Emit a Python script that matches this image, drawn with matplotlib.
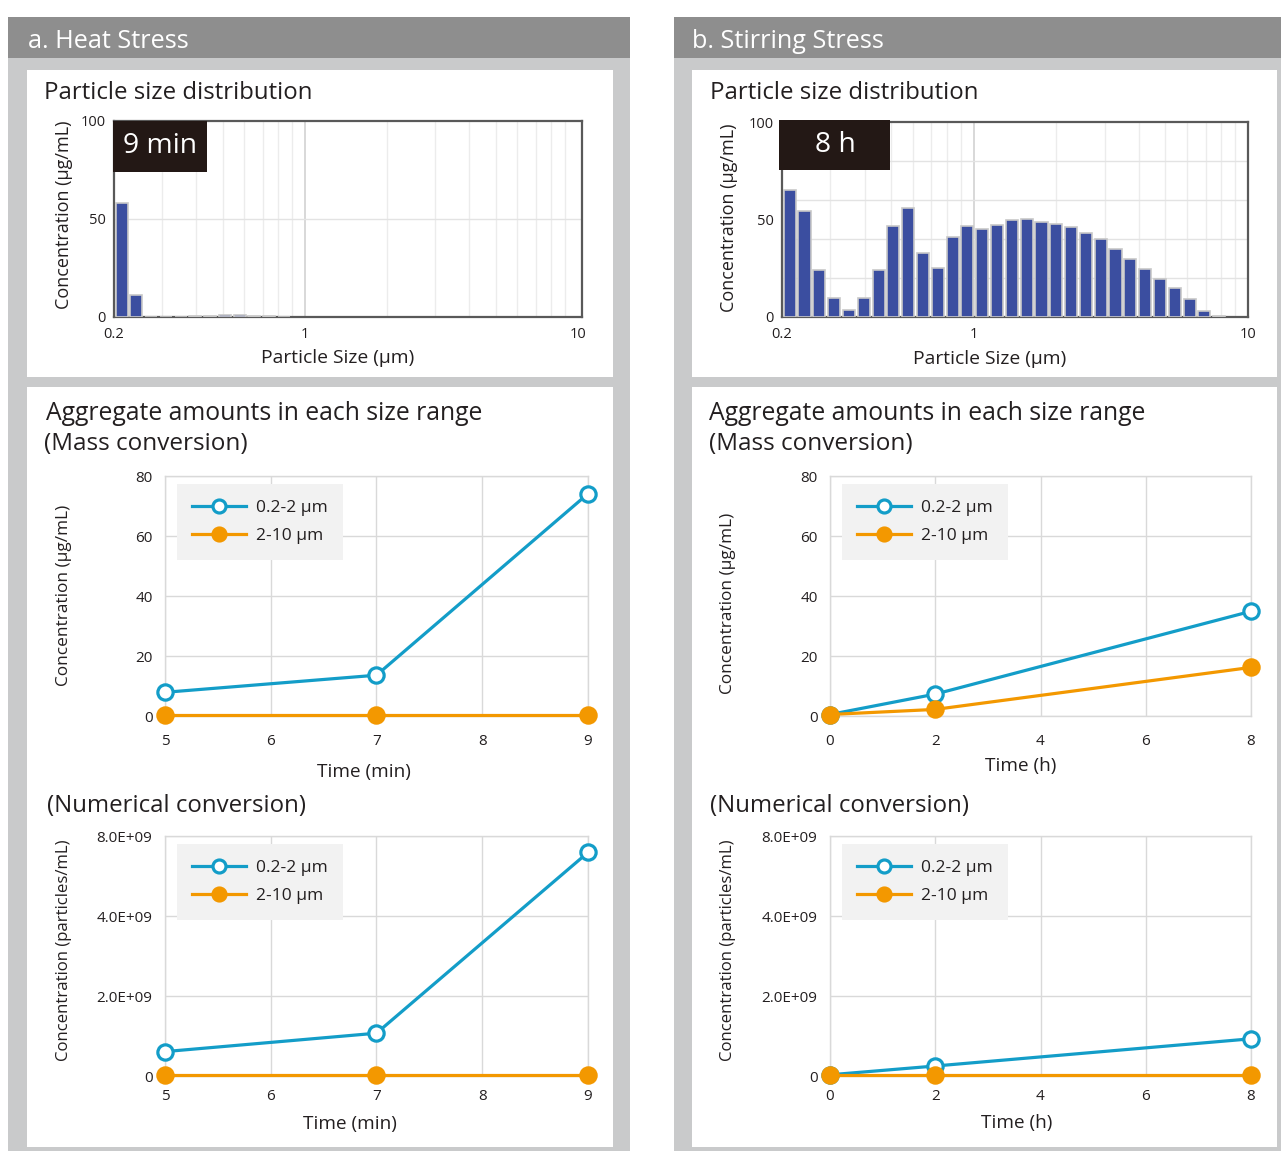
import matplotlib
matplotlib.use("Agg")
import matplotlib.pyplot as plt
from matplotlib.patches import Rectangle
from matplotlib.ticker import NullLocator

plt.rcParams['font.family'] = ['Open Sans', 'DejaVu Sans']

# ---- data ----
# particle size distribution, log bins starting at 0.2 um
bin_step = 0.054          # decades per bin
heat_hist = [58, 11, 0, 0, 0, 0.3, 0.3, 1.2, 1.2, 0.5, 0.3, 0.2]
stir_hist = [65.1, 54.5, 23.9, 9.9, 3.4, 9.9, 23.9, 46.7, 55.9, 33.0,
             25.0, 41.2, 46.7, 45.0, 47.0, 49.7, 50.3, 48.7, 47.5, 46.2,
             43.3, 40.2, 34.8, 29.8, 24.4, 19.6, 14.7, 9.2, 3.2, 0.7]

heat_time = [5, 7, 9]
heat_mass_small = [7.9, 13.6, 74.1]
heat_mass_large = [0.5, 0.5, 0.5]
heat_num_small = [0.61e9, 1.07e9, 5.59e9]
heat_num_large = [0.02e9, 0.02e9, 0.02e9]

stir_time = [0, 2, 8]
stir_mass_small = [0.5, 7.3, 34.9]
stir_mass_large = [0.5, 2.2, 16.2]
stir_num_small = [0.03e9, 0.25e9, 0.93e9]
stir_num_large = [0.02e9, 0.02e9, 0.02e9]

num_ticks = [0, 2e9, 4e9, 6e9]
num_ticklabels = ['0', '2.0E+09', '4.0E+09', '8.0E+09']

BLUE = '#139dc8'
ORANGE = '#f39800'
TXT = '#231f20'
GRID = '#d9d9d9'

W, H = 1281, 1151
fig = plt.figure(figsize=(W / 100, H / 100), dpi=100)


def box(x0, y0, x1, y1, color):
    fig.add_artist(Rectangle((x0 / W, 1 - y1 / H), (x1 - x0) / W, (y1 - y0) / H,
                             transform=fig.transFigure, facecolor=color,
                             edgecolor='none', zorder=-5))


def axes_px(x0, y0, x1, y1):
    return fig.add_axes([x0 / W, 1 - y1 / H, (x1 - x0) / W, (y1 - y0) / H])


def text_px(x, y, s, **kw):
    kw.setdefault('color', TXT)
    kw.setdefault('va', 'center')
    fig.text(x / W, 1 - y / H, s, **kw)


# panel backgrounds
for x0, x1, wx0, wx1 in [(8, 630, 27, 613), (674, 1281, 692, 1277)]:
    box(x0, 17, x1, 58, '#8e8e8e')
    box(x0, 58, x1, 1151, '#c9cacb')
    box(wx0, 70, wx1, 377, 'white')
    box(wx0, 387, wx1, 1147, 'white')

text_px(28, 41, 'a. Heat Stress', color='white', fontsize=18.2)
text_px(692, 41, 'b. Stirring Stress', color='white', fontsize=18.2)


def histogram(rect, values, hlines, label, lab_box, xmax):
    ax = axes_px(*rect)
    centers = [0.2 * 10 ** (0.028 + k * bin_step) for k in range(len(values))]
    lefts = [c * 10 ** -0.022 for c in centers]
    widths = [c * 10 ** 0.022 - l for c, l in zip(centers, lefts)]
    ax.bar(lefts, values, width=widths, align='edge', color='#3b4ea0',
           edgecolor='#c8c8c8', linewidth=1.2, zorder=3)
    ax.set_xscale('log')
    ax.set_xlim(0.2, xmax)
    ax.set_ylim(0, 100)
    for v in [0.3, 0.4, 0.5, 0.6, 0.7, 0.8, 0.9, 2, 3, 4, 5, 6, 7, 8, 9]:
        ax.axvline(v, color='#ececec', lw=1, zorder=1)
    ax.axvline(1, color='#d2d2d2', lw=1.2, zorder=1)
    for h in hlines:
        ax.axhline(h, color='#e3e3e3', lw=1, zorder=1)
    ax.set_xticks([0.2, 1, 10])
    ax.set_xticklabels(['0.2', '1', '10'])
    ax.xaxis.set_minor_locator(NullLocator())
    ax.set_yticks([0, 50, 100])
    ax.tick_params(length=0, labelsize=10.5, colors=TXT)
    ax.tick_params(axis='x', pad=7)
    ax.tick_params(axis='y', pad=6)
    for sp in ax.spines.values():
        sp.set_color('#595959')
        sp.set_linewidth(1.6)
    bx0, by0, bx1, by1, tx = lab_box
    ax.add_patch(Rectangle((bx0, by0), bx1 - bx0, by1 - by0, transform=ax.transAxes,
                           facecolor='#231815', edgecolor='none', zorder=5, clip_on=False))
    ax.text(tx, (by0 + by1) / 2, label, transform=ax.transAxes, color='white',
            fontsize=20.3, ha='center', va='center', zorder=6)
    return ax


def line_chart(rect, xs, small, large, xlim, xticks, ylim, yticks, yticklabels, xpad):
    ax = axes_px(*rect)
    ax.plot(xs, small, color=BLUE, lw=2.3, marker='o', ms=11, mfc='white',
            mec=BLUE, mew=2.3, label='0.2-2 µm', clip_on=False, zorder=3)
    ax.plot(xs, large, color=ORANGE, lw=2.3, marker='o', ms=11, mfc=ORANGE,
            mec=ORANGE, mew=2.3, label='2-10 µm', clip_on=False, zorder=4)
    ax.set_xlim(*xlim)
    ax.set_ylim(*ylim)
    ax.set_xticks(xticks)
    ax.set_yticks(yticks)
    if yticklabels:
        ax.set_yticklabels(yticklabels)
    ax.grid(True, color=GRID, lw=1)
    ax.set_axisbelow(True)
    for sp in ax.spines.values():
        sp.set_color(GRID)
        sp.set_linewidth(1)
    ax.tick_params(length=0, labelsize=11, colors=TXT)
    ax.tick_params(axis='x', pad=xpad)
    ax.tick_params(axis='y', pad=9)
    leg = ax.legend(loc='upper left', bbox_to_anchor=(0.028, 0.967), borderaxespad=0,
                    fontsize=12.5, handlelength=3.1, frameon=True, fancybox=False,
                    borderpad=0.9, labelspacing=0.7, handletextpad=0.55, markerscale=0.85)
    leg.get_frame().set_facecolor('#f2f2f2')
    leg.get_frame().set_edgecolor('none')
    leg.get_frame().set_alpha(1)
    for t in leg.get_texts():
        t.set_color(TXT)
    return ax


# ---- a. heat stress ----
text_px(44, 93, 'Particle size distribution', fontsize=17.3)
histogram((114, 121, 582, 317), heat_hist, [50], '9 min',
          (-0.003, 0.74, 0.198, 1.0, 0.098), 10.35)
text_px(64, 215, 'Concentration (µg/mL)', fontsize=13, rotation=90, ha='center')
text_px(338, 358, 'Particle Size (µm)', fontsize=13.9, ha='center')

text_px(46, 413, 'Aggregate amounts in each size range', fontsize=17.8)
text_px(44, 444, '(Mass conversion)', fontsize=17.5)
line_chart((165, 476, 588, 716), heat_time, heat_mass_small, heat_mass_large,
           (5, 9), [5, 6, 7, 8, 9], (0, 80), [0, 20, 40, 60, 80], None, 13)
text_px(64, 595, 'Concentration (µg/mL)', fontsize=12.4, rotation=90, ha='center')
text_px(364, 772, 'Time (min)', fontsize=13.7, ha='center')

text_px(47, 806, '(Numerical conversion)', fontsize=17.3)
line_chart((165, 836, 588, 1076), heat_time, heat_num_small, heat_num_large,
           (5, 9), [5, 6, 7, 8, 9], (0, 6e9), num_ticks, num_ticklabels, 9)
text_px(64, 950, 'Concentration (particles/mL)', fontsize=12.1, rotation=90, ha='center')
text_px(350, 1124, 'Time (min)', fontsize=13.7, ha='center')

# ---- b. stirring stress ----
text_px(710, 93, 'Particle size distribution', fontsize=17.3)
histogram((782, 122, 1248, 317), stir_hist, [20, 40, 60, 80], '8 h',
          (-0.006, 0.755, 0.232, 1.01, 0.115), 10)
text_px(729, 218, 'Concentration (µg/mL)', fontsize=13, rotation=90, ha='center')
text_px(990, 359, 'Particle Size (µm)', fontsize=13.9, ha='center')

text_px(709, 413, 'Aggregate amounts in each size range', fontsize=17.8)
text_px(709, 444, '(Mass conversion)', fontsize=17.5)
line_chart((830, 476, 1251, 716), stir_time, stir_mass_small, stir_mass_large,
           (0, 8), [0, 2, 4, 6, 8], (0, 80), [0, 20, 40, 60, 80], None, 13)
text_px(728, 603, 'Concentration (µg/mL)', fontsize=12.4, rotation=90, ha='center')
text_px(1021, 766, 'Time (h)', fontsize=13.7, ha='center')

text_px(710, 806, '(Numerical conversion)', fontsize=17.3)
line_chart((830, 836, 1251, 1076), stir_time, stir_num_small, stir_num_large,
           (0, 8), [0, 2, 4, 6, 8], (0, 6e9), num_ticks, num_ticklabels, 9)
text_px(728, 950, 'Concentration (particles/mL)', fontsize=12.1, rotation=90, ha='center')
text_px(1017, 1123, 'Time (h)', fontsize=13.7, ha='center')

fig.savefig('out.png', dpi=100)
